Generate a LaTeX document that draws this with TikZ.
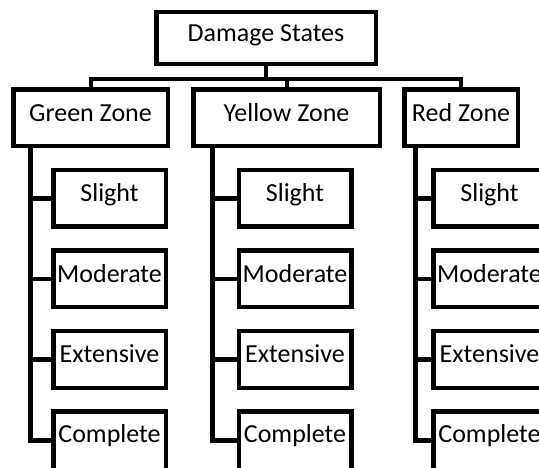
\documentclass[tikz,border=0pt]{standalone}
\usepackage{fontspec}
\setmainfont{Carlito}
\begin{document}
\begin{tikzpicture}[x=1pt,y=-1pt,
  boxbase/.style={draw=black, line width=4.5pt, rectangle, inner sep=0pt,
    font=\fontsize{26}{30}\selectfont, text height=0.644em, text depth=0pt, align=center},
  rootbox/.style={boxbase, minimum width=219.5pt, minimum height=52pt},
  zonebox/.style={boxbase, minimum height=56.5pt},
  childbox/.style={boxbase, minimum width=112.5pt, minimum height=56.5pt},
  lastbox/.style={childbox, minimum height=62pt, text depth=7pt},
  busline/.style={draw=black, line width=4pt, line join=miter},
  trunkline/.style={draw=black, line width=5pt, line join=miter},
  branchline/.style={draw=black, line width=4.5pt}
]
\useasboundingbox (0,0) rectangle (539,468);
\clip (0,0) rectangle (539,468);
\fill[white] (0,0) rectangle (539,468);

\node[rootbox] (root) at (266,38.25) {Damage States};
\node[zonebox, minimum width=154.5pt] (green) at (90.5,118) {Green Zone};
\node[zonebox, minimum width=186.5pt] (yellow) at (286.5,118) {Yellow Zone};
\node[zonebox, minimum width=113.5pt] (red) at (461,118) {Red Zone};

\foreach \z/\cx in {g/109.5, y/295, r/489.5}{
  \node[childbox] (\z S) at (\cx,198.5) {Slight};
  \node[childbox] (\z M) at (\cx,279) {Moderate};
  \node[childbox] (\z E) at (\cx,359.5) {Extensive};
  \node[lastbox] (\z C) at (\cx,442.5) {Complete};
  \coordinate (\z Cw) at (\cx-56.25,440);
}

\coordinate (bus) at (266,79);
\draw[busline] (root.south) -- (bus);
\draw[busline] (green.north) |- (bus) -| (red.north);
\draw[busline] (yellow.north) -- (yellow.north |- bus);

\coordinate (gx) at (30,0);
\coordinate (yx) at (212,0);
\coordinate (rx) at (415,0);

\draw[trunkline] (green.south -| gx) |- (gCw);
\draw[trunkline] (yellow.south -| yx) |- (yCw);
\draw[trunkline] (red.south -| rx) |- (rCw);

\foreach \z/\t in {g/gx, y/yx, r/rx}{
  \draw[branchline] (\z S.west -| \t) -- (\z S.west);
  \draw[branchline] (\z M.west -| \t) -- (\z M.west);
  \draw[branchline] (\z E.west -| \t) -- (\z E.west);
}
\end{tikzpicture}
\end{document}
